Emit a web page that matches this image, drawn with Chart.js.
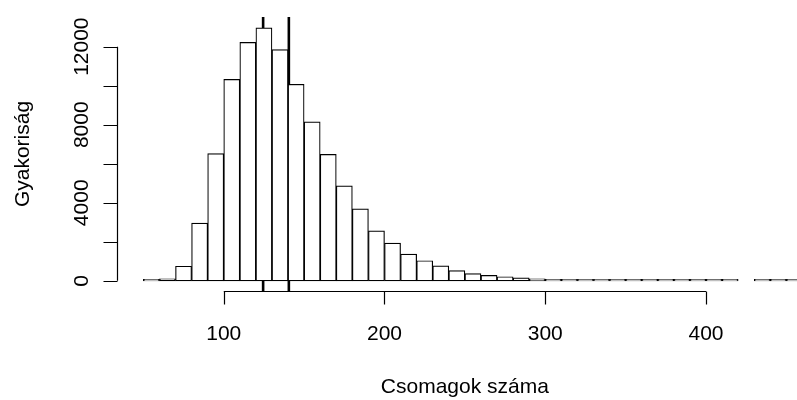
<!DOCTYPE html>
<html>
<head>
<meta charset="utf-8">
<script src="https://cdn.jsdelivr.net/npm/chart.js@4/dist/chart.umd.min.js"></script>
<style>
  html, body { margin: 0; padding: 0; background: #ffffff; }
  #wrap { width: 797px; height: 400px; position: relative; }
</style>
</head>
<body>
<div id="wrap"><canvas id="c" width="797" height="400"></canvas></div>
<script>
// ---- data ----
const binStarts = [50,60,70,80,90,100,110,120,130,140,150,160,170,180,190,200,210,220,230,240,250,260,270,280,290,300,310,320,330,340,350,360,370,380,390,400,410,420,430,440,450];
const counts    = [25,110,750,2960,6520,10320,12220,12960,11850,10070,8150,6480,4870,3690,2560,1930,1370,1030,770,530,370,280,210,150,100,70,50,35,25,18,12,9,6,5,3,3,2,0,1,1,1];
const binWidth = 10;
const refLines = [124.5, 140.5];
const xTicks = [100, 200, 300, 400];
const yTicks = [0, 2000, 4000, 6000, 8000, 10000, 12000];
const yTickLabels = ["0", "", "4000", "", "8000", "", "12000"];
const xTitle = "Csomagok száma";
const yTitle = "Gyakoriság";

const xMin = 33.6, xMax = 456.6, yMin = -520, yMax = 13520;

// empty bins (count 0) are not drawn, like the gap in the reference
const barData = binStarts.map((b, i) => ({ x: b + binWidth / 2, y: counts[i] === 0 ? null : counts[i] }));
const lineSets = refLines.map(v => ({
  type: 'line',
  data: [{ x: v, y: yMin }, { x: v, y: yMax }],
  borderColor: '#000',
  borderWidth: 2.6,
  pointRadius: 0,
  fill: false
}));

const FONT = '"Liberation Sans", Arial, Helvetica, sans-serif';

const rAxes = {
  id: 'rAxes',
  afterDraw(chart) {
    const ctx = chart.ctx;
    const xs = chart.scales.x, ys = chart.scales.y;
    const area = chart.chartArea;
    ctx.save();
    ctx.strokeStyle = '#000';
    ctx.fillStyle = '#000';
    ctx.lineWidth = 1.2;
    // y axis
    const x0 = Math.round(area.left) + 0.5;
    ctx.beginPath();
    ctx.moveTo(x0, ys.getPixelForValue(yTicks[0]));
    ctx.lineTo(x0, ys.getPixelForValue(yTicks[yTicks.length - 1]));
    yTicks.forEach(t => {
      const py = Math.round(ys.getPixelForValue(t)) + 0.5;
      ctx.moveTo(x0, py);
      ctx.lineTo(x0 - 14, py);
    });
    ctx.stroke();
    ctx.font = '21px ' + FONT;
    ctx.textAlign = 'center';
    ctx.textBaseline = 'middle';
    yTicks.forEach((t, i) => {
      if (!yTickLabels[i]) return;
      const py = ys.getPixelForValue(t);
      ctx.save();
      ctx.translate(x0 - 35, py);
      ctx.rotate(-Math.PI / 2);
      ctx.fillText(yTickLabels[i], 0, 0);
      ctx.restore();
    });
    // x axis
    const y0 = Math.round(area.bottom) + 0.5;
    ctx.beginPath();
    ctx.moveTo(xs.getPixelForValue(xTicks[0]), y0);
    ctx.lineTo(xs.getPixelForValue(xTicks[xTicks.length - 1]), y0);
    xTicks.forEach(t => {
      const px = Math.round(xs.getPixelForValue(t)) + 0.5;
      ctx.moveTo(px, y0);
      ctx.lineTo(px, y0 + 13);
    });
    ctx.stroke();
    xTicks.forEach(t => {
      ctx.fillText(String(t), xs.getPixelForValue(t), y0 + 43);
    });
    // titles
    ctx.fillText(xTitle, xs.getPixelForValue(250), 387);
    ctx.save();
    ctx.translate(23, (area.top + area.bottom) / 2);
    ctx.rotate(-Math.PI / 2);
    ctx.fillText(yTitle, 0, 0);
    ctx.restore();
    ctx.restore();
  }
};

new Chart(document.getElementById('c'), {
  data: {
    datasets: [
      {
        type: 'bar',
        data: barData,
        backgroundColor: '#ffffff',
        borderColor: '#000000',
        borderWidth: 1.2,
        borderSkipped: false,
        minBarLength: 1.5,
        barPercentage: 1,
        categoryPercentage: 1,
        grouped: false
      },
      ...lineSets
    ]
  },
  options: {
    responsive: false,
    animation: false,
    devicePixelRatio: 1,
    layout: { padding: { left: 117, top: 17, right: 0, bottom: 109 } },
    plugins: { legend: { display: false }, tooltip: { enabled: false } },
    scales: {
      x: { type: 'linear', min: xMin, max: xMax, offset: false, display: false },
      y: { type: 'linear', min: yMin, max: yMax, display: false }
    }
  },
  plugins: [rAxes]
});
</script>
</body>
</html>
